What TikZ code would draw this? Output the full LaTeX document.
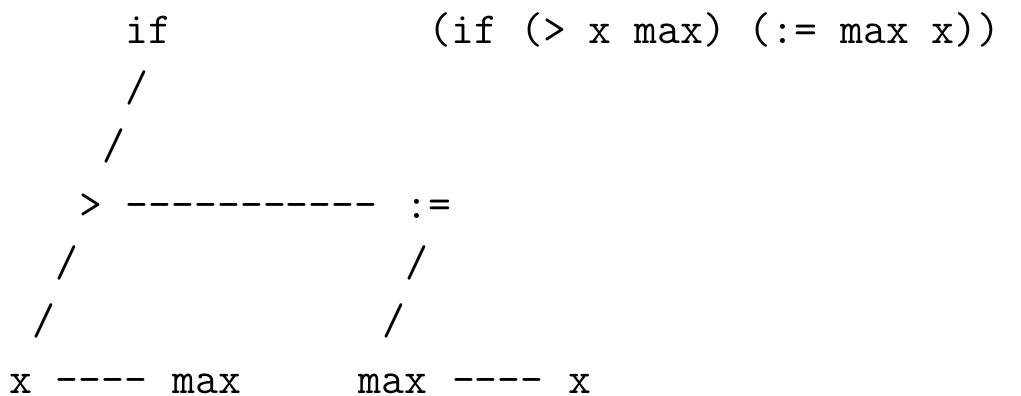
\documentclass[tikz,border=0pt]{standalone}

\begin{document}
\begin{tikzpicture}[x=23.3pt,y=-58.33pt,
   tok/.style={anchor=base west,inner sep=0pt,outer sep=0pt,
               font=\ttfamily\fontsize{44.4}{58}\selectfont}]

  \useasboundingbox (-0.4,-0.742) rectangle (43.42,6.047);

  % --- fila 0: raiz y expresion ---
  \node[tok] (si)   at (5,0)  {if};
  \node[tok] (expr) at (18,0) {(if (> x max) (:= max x))};

  % --- ramas hacia > ---
  \node[tok] (r1) at (5,1) {/};
  \node[tok] (r2) at (4,2) {/};

  % --- fila 3: > y := ---
  \node[tok] (mayor) at (3,3)  {>};
  \node[tok] (h1)    at (5,3)  {-{}-{}-{}-{}-{}-{}-{}-{}-{}-{}-};
  \node[tok] (asig)  at (17,3) {:=};

  % --- ramas hacia las hojas ---
  \node[tok] (r3) at (2,4)  {/};
  \node[tok] (r4) at (17,4) {/};
  \node[tok] (r5) at (1,5)  {/};
  \node[tok] (r6) at (16,5) {/};

  % --- fila 6: hojas ---
  \node[tok] (xa)   at (0,6)  {x};
  \node[tok] (h2)   at (2,6)  {-{}-{}-{}-};
  \node[tok] (maxa) at (7,6)  {max};
  \node[tok] (maxb) at (15,6) {max};
  \node[tok] (h3)   at (19,6) {-{}-{}-{}-};
  \node[tok] (xb)   at (24,6) {x};
\end{tikzpicture}
\end{document}
